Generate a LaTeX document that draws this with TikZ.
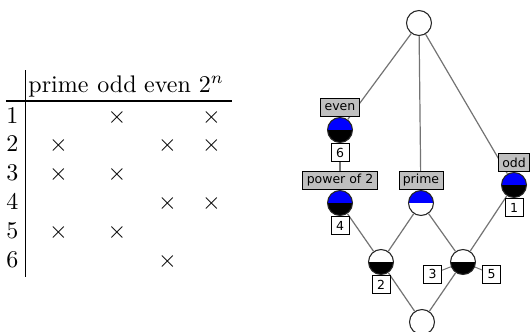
\documentclass[tikz,border=0pt]{standalone}
\usepackage{fontspec}
\newfontfamily\labelfont{DejaVu Sans}
\begin{document}
\begin{tikzpicture}[x=0.41667pt,y=-0.41667pt,
  cell/.style={anchor=base, inner sep=0pt},
  rule/.style={line width=0.5pt},
  concept/.style={circle, draw=black!85, line width=0.45pt, fill=white,
    minimum size=10.4pt, inner sep=0pt},
  % upper half blue: the concept introduces an attribute
  ownattr/.style={path picture={\fill[blue] (path picture bounding box.west)
    rectangle (path picture bounding box.north east);}},
  % lower half black: the concept introduces an object
  ownobj/.style={path picture={\fill[black] (path picture bounding box.west)
    rectangle (path picture bounding box.south east);}},
  ownboth/.style={path picture={
    \fill[blue] (path picture bounding box.west)
      rectangle (path picture bounding box.north east);
    \fill[black] (path picture bounding box.west)
      rectangle (path picture bounding box.south east);}},
  edge/.style={draw=black!55, line width=0.5pt},
  attrlabel/.style={draw=black, fill=black!25, line width=0.4pt,
    font=\labelfont\fontsize{5.2}{6}\selectfont, inner xsep=1.6pt, inner ysep=0pt,
    minimum height=7.5pt},
  objlabel/.style={draw=black, fill=white, line width=0.4pt,
    font=\labelfont\fontsize{5.2}{6}\selectfont, inner sep=0pt,
    minimum width=7.5pt, minimum height=7.5pt},
  tick/.style={draw=black!55, line width=0.4pt}
]
\useasboundingbox (0,0) rectangle (531,332);

% ---- cross table ----
\node[cell] (hprime) at (58.5,92) {prime};
\node[cell] (hodd)   at (117,92)  {odd};
\node[cell] (heven)  at (167.5,92) {even};
\node[cell] (hpow)   at (211.5,92) {$2^n$};
\coordinate (hl) at (6,101);
\coordinate (hr) at (232,101);
\coordinate (vt) at (25.7,70);
\coordinate (vb) at (25.7,277);
\draw[rule] (hl) -- (hr);
\draw[rule] (vt) -- (vb);

\foreach \r/\y in {1/123,2/151.8,3/180.6,4/209.4,5/238.2,6/267}
  \node[cell] (row\r) at (12.5,\y) {\r};

\foreach \c/\r in {odd/1,pow/1,prime/2,even/2,pow/2,prime/3,odd/3,even/4,pow/4,prime/5,odd/5,even/6}{
  \path (h\c |- row\r.base) node[cell] (x\c\r) {$\times$};
}

% ---- concept lattice ----
\node[concept] (top) at (419,23) {};
\node[concept, ownboth] (ceven) at (340,130) {};
\node[concept, ownboth] (cpow) at (340,203) {};
\node[concept, ownattr] (cprime) at (421,203) {};
\node[concept, ownboth] (codd) at (514,185) {};
\node[concept, ownobj] (ctwo) at (381,262) {};
\node[concept, ownobj] (cthree) at (463,262) {};
\node[concept] (bot) at (422,322) {};

\draw[edge] (top) -- (ceven);
\draw[edge] (top) -- (cprime);
\draw[edge] (top) -- (codd);
\draw[edge] (ceven) -- (cpow);
\draw[edge] (cpow) -- (ctwo);
\draw[edge] (cprime) -- (ctwo);
\draw[edge] (cprime) -- (cthree);
\draw[edge] (codd) -- (cthree);
\draw[edge] (ctwo) -- (bot);
\draw[edge] (cthree) -- (bot);

% attribute labels
\node[attrlabel, anchor=south] (leven) at (ceven.north) {even};
\node[attrlabel, anchor=south] (lpow) at (cpow.north) {power of 2};
\node[attrlabel, anchor=south] (lprime) at (cprime.north) {prime};
\node[attrlabel, anchor=south] (lodd) at (codd.north) {odd};

% object labels
\node[objlabel, anchor=north] (osix) at (ceven.south) {6};
\node[objlabel, anchor=north] (ofour) at (cpow.south) {4};
\node[objlabel, anchor=north] (oone) at (codd.south) {1};
\node[objlabel, anchor=north] (otwo) at (ctwo.south) {2};
\node[objlabel] (othree) at (432.5,274) {3};
\node[objlabel] (ofive) at (491.5,274) {5};
\draw[tick] (othree) -- (cthree);
\draw[tick] (ofive) -- (cthree);
\end{tikzpicture}
\end{document}
